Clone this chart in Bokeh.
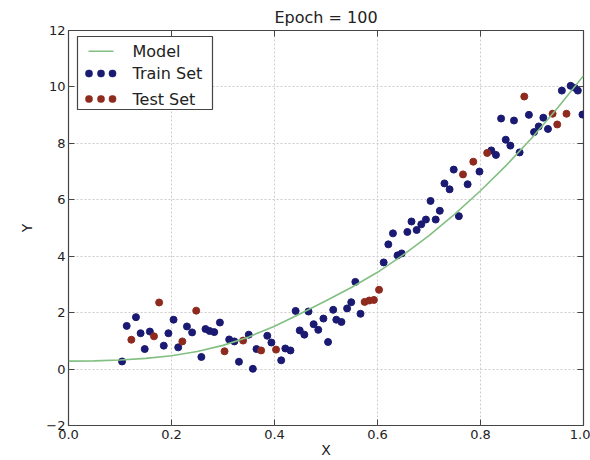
from bokeh.plotting import figure
from bokeh.models import (Range1d, FixedTicker, LinearAxis, BoxAnnotation, Label,
                          PrintfTickFormatter)
from bokeh.embed import file_html
from bokeh.resources import INLINE

title_text = "Epoch = 100"
x_label = "X"
y_label = "Y"
x_ticks = [0.0, 0.2, 0.4, 0.6, 0.8, 1.0]
x_tick_labels = ["0.0", "0.2", "0.4", "0.6", "0.8", "1.0"]
y_ticks = [-2, 0, 2, 4, 6, 8, 10, 12]
y_tick_labels = ["\u22122", "0", "2", "4", "6", "8", "10", "12"]
legend_labels = ["Model", "Train Set", "Test Set"]

model_x = [0.00, 0.05, 0.10, 0.15, 0.20, 0.25, 0.30, 0.35, 0.40, 0.45, 0.50,
           0.55, 0.60, 0.65, 0.70, 0.75, 0.80, 0.85, 0.90, 0.95, 1.00]
model_y = [0.28, 0.29, 0.32, 0.38, 0.47, 0.62, 0.84, 1.14, 1.52, 1.96, 2.42,
           2.90, 3.43, 4.05, 4.73, 5.49, 6.32, 7.22, 8.20, 9.26, 10.40]

train_x = [0.104, 0.113, 0.131, 0.140, 0.148, 0.158, 0.185, 0.194, 0.204, 0.213,
           0.230, 0.240, 0.258, 0.266, 0.274, 0.283, 0.294, 0.312, 0.322, 0.331,
           0.350, 0.358, 0.365, 0.386, 0.394, 0.413, 0.421, 0.431, 0.441, 0.449,
           0.458, 0.466, 0.476, 0.485, 0.495, 0.504, 0.514, 0.520, 0.530, 0.541,
           0.549, 0.557, 0.567, 0.612, 0.621, 0.630, 0.639, 0.647, 0.658, 0.666,
           0.676, 0.685, 0.694, 0.703, 0.713, 0.721, 0.730, 0.740, 0.748, 0.758,
           0.775, 0.798, 0.821, 0.830, 0.840, 0.849, 0.858, 0.865, 0.876, 0.894,
           0.904, 0.913, 0.922, 0.931, 0.958, 0.975, 0.983, 0.989, 0.998]
train_y = [0.27, 1.53, 1.84, 1.27, 0.71, 1.33, 0.83, 1.27, 1.75, 0.77,
           1.51, 1.30, 0.43, 1.42, 1.35, 1.31, 1.65, 1.05, 0.98, 0.26,
           1.22, 0.01, 0.71, 1.18, 0.94, 0.31, 0.73, 0.66, 2.06, 1.37,
           1.22, 2.04, 1.59, 1.39, 1.79, 0.96, 2.10, 1.75, 1.67, 2.15,
           2.37, 3.09, 1.96, 3.78, 4.42, 4.81, 4.03, 4.10, 4.86, 5.23,
           4.93, 5.13, 5.30, 5.96, 5.30, 5.61, 6.58, 6.37, 7.07, 5.42,
           6.55, 7.00, 7.75, 7.59, 8.88, 8.13, 7.92, 8.81, 7.68, 9.01,
           8.40, 8.60, 8.91, 8.51, 9.87, 10.04, 9.97, 9.87, 9.02]

test_x = [0.122, 0.166, 0.176, 0.221, 0.248, 0.303, 0.339, 0.374, 0.403, 0.575,
          0.584, 0.593, 0.603, 0.766, 0.786, 0.813, 0.885, 0.940, 0.949, 0.967]
test_y = [1.04, 1.16, 2.36, 0.98, 2.07, 0.63, 1.01, 0.66, 0.69, 2.38,
          2.43, 2.45, 2.81, 6.90, 7.35, 7.66, 9.66, 9.05, 8.67, 9.05]

FONT = "DejaVu Sans"
TXT = "#222222"
EDGE = "#444444"
NAVY = "#1a1a72"
DARKRED = "#8f2a1f"
GREEN = "#82bf82"

p = figure(width=590, height=460, x_range=Range1d(0, 1), y_range=Range1d(-2, 12),
           output_backend="svg", toolbar_location=None,
           min_border_left=68, min_border_right=7, min_border_top=30, min_border_bottom=34,
           background_fill_color="white", border_fill_color="white")

p.title.text = title_text
p.title.align = "center"
p.title.text_font = FONT
p.title.text_font_size = "16px"
p.title.text_font_style = "normal"
p.title.text_color = TXT
p.title.standoff = 7

p.outline_line_color = EDGE
p.outline_line_width = 1.2

p.xaxis.ticker = FixedTicker(ticks=x_ticks)
p.xaxis.formatter = PrintfTickFormatter(format="%.1f")
p.xaxis.major_label_overrides = dict(zip(x_ticks, x_tick_labels))
p.yaxis.ticker = FixedTicker(ticks=y_ticks)
p.yaxis.major_label_overrides = dict(zip(y_ticks, y_tick_labels))
p.xaxis.axis_label = x_label
p.yaxis.axis_label = y_label

for ax in [p.xaxis[0], p.yaxis[0]]:
    ax.axis_line_color = None
    ax.major_tick_in = 6
    ax.major_tick_out = 0
    ax.major_tick_line_color = EDGE
    ax.minor_tick_line_color = None
    ax.major_label_text_font = FONT
    ax.major_label_text_font_size = "13px"
    ax.major_label_text_color = TXT
    ax.axis_label_text_font = FONT
    ax.axis_label_text_font_size = "14px"
    ax.axis_label_text_font_style = "normal"
    ax.axis_label_text_color = TXT
p.xaxis.major_label_standoff = 4
p.xaxis.axis_label_standoff = 0
p.yaxis.major_label_standoff = 3
p.yaxis.axis_label_standoff = 8

# inward ticks on the top and right edges (no labels)
top_ax = LinearAxis(ticker=FixedTicker(ticks=x_ticks), axis_line_color=None,
                    major_tick_in=6, major_tick_out=0, major_tick_line_color=EDGE,
                    minor_tick_line_color=None, major_label_text_font_size="0px",
                    major_label_text_color=None, major_label_standoff=0)
right_ax = LinearAxis(ticker=FixedTicker(ticks=y_ticks), axis_line_color=None,
                      major_tick_in=6, major_tick_out=0, major_tick_line_color=EDGE,
                      minor_tick_line_color=None, major_label_text_font_size="0px",
                      major_label_text_color=None, major_label_standoff=0)
p.add_layout(top_ax, "above")
p.add_layout(right_ax, "right")

p.xgrid.ticker = FixedTicker(ticks=x_ticks)
p.ygrid.ticker = FixedTicker(ticks=y_ticks)
p.grid.grid_line_color = "#cccccc"
p.grid.grid_line_dash = "2 2"
p.grid.grid_line_width = 1

p.scatter(train_x, train_y, size=7, fill_color=NAVY, line_color=NAVY)
p.scatter(test_x, test_y, size=7, fill_color=DARKRED, line_color=DARKRED)
p.line(model_x, model_y, line_color=GREEN, line_width=1.6)

# legend (screen units relative to the plot frame, y measured upward from frame bottom)
def sbox(l, r, b, t, fill, line=None, radius=0, lw=1.0):
    return BoxAnnotation(left=l, right=r, bottom=b, top=t,
                         left_units="screen", right_units="screen",
                         bottom_units="screen", top_units="screen",
                         fill_color=fill, fill_alpha=1.0,
                         line_color=line, line_alpha=1.0 if line else 0.0, line_width=lw,
                         border_radius=radius)

p.add_layout(sbox(9, 144, 316, 389, "white", EDGE, 0, 1.2))
rows_y = [374.3, 352.0, 326.5]
p.add_layout(sbox(20, 45, rows_y[0] - 0.8, rows_y[0] + 0.8, GREEN))
for cy, col in [(rows_y[1], NAVY), (rows_y[2], DARKRED)]:
    for cx in [20.5, 32.5, 44.0]:
        p.add_layout(sbox(cx - 3.5, cx + 3.5, cy - 3.5, cy + 3.5, col, col, 3, 0.5))
for lab, cy in zip(legend_labels, rows_y):
    p.add_layout(Label(x=64, y=cy, x_units="screen", y_units="screen", text=lab,
                       text_baseline="middle", text_align="left", text_font=FONT,
                       text_font_size="16px", text_color=TXT))

open("out.html", "w").write(file_html(p, INLINE))
